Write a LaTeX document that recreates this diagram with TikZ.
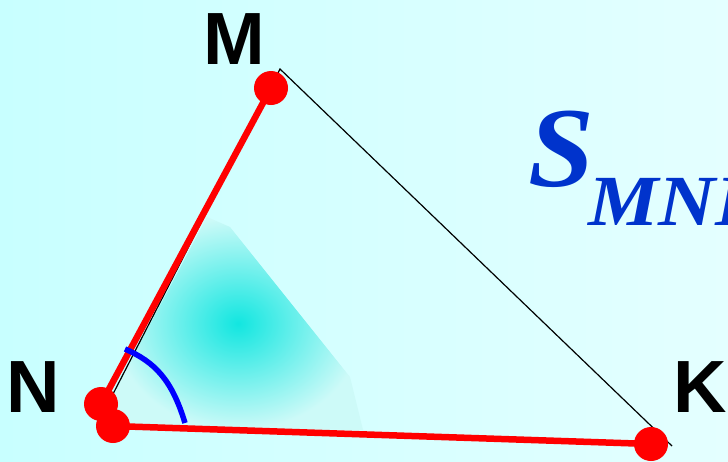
\documentclass[tikz,border=0pt]{standalone}
\usepackage{fontspec}
\setmainfont{Liberation Serif}
\newfontfamily\lblfont{Liberation Sans}
\definecolor{bgL}{RGB}{200,255,255}
\definecolor{bgR}{RGB}{228,255,255}
\definecolor{shin}{RGB}{18,230,224}
\definecolor{shout}{RGB}{205,250,248}
\definecolor{sblue}{RGB}{0,51,204}
\tikzset{
  redline/.style={draw=red, line width=6.5pt},
  blackline/.style={draw=black, line width=1.2pt},
  reddot/.style={circle, fill=red, inner sep=0pt, minimum size=34pt},
  vlabel/.style={font=\lblfont\bfseries\fontsize{74}{80}\selectfont, inner sep=0pt},
  anglearc/.style={draw=blue, line width=5.5pt},
}
\begin{document}
\begin{tikzpicture}[x=1pt,y=-1pt]
\useasboundingbox (0,0) rectangle (728,461);
\clip (0,0) rectangle (728,461);
\shade[left color=bgL, right color=bgR] (0,0) rectangle (728,461);
% shaded region
\shade[inner color=shin, outer color=shout] (113,394) -- (207,217) -- (230,227) -- (350,377) -- (363,430) -- (113,427) -- cycle;
% black triangle sides
\coordinate (Mt) at (280,69);
\coordinate (Kt) at (672,446);
\coordinate (Nt) at (113,394);
\draw[blackline] (Nt) -- (Mt) -- (Kt);
% red segments and dots
\node[reddot] (Md) at (271,88) {};
\node[reddot] (N1) at (101,404) {};
\node[reddot] (N2) at (113,426) {};
\node[reddot] (Kd) at (651,444) {};
\draw[redline] (Md.center) -- (N1.center);
\draw[redline] (N2.center) -- (Kd.center);
% angle arc
\coordinate (A1) at (125,349);
\coordinate (A2) at (185,423);
\draw[anglearc] (A1) .. controls (155,362) and (172,380) .. (A2);
% labels
\node[vlabel] (lM) at (234,39) {M};
\node[vlabel] (lN) at (33,387) {N};
\node[vlabel] (lK) at (700,387) {K};
\node[anchor=base west, inner sep=0pt, text=sblue, font=\bfseries\itshape\fontsize{114}{116}\selectfont] (S) at (528,186) {\scalebox{1.04}[1]{S}};
\node[anchor=base west, inner sep=0pt, text=sblue, font=\bfseries\itshape\fontsize{72}{76}\selectfont] (sub) at (588,225) {\scalebox{1.1}[1]{MNK}};
\end{tikzpicture}
\end{document}
